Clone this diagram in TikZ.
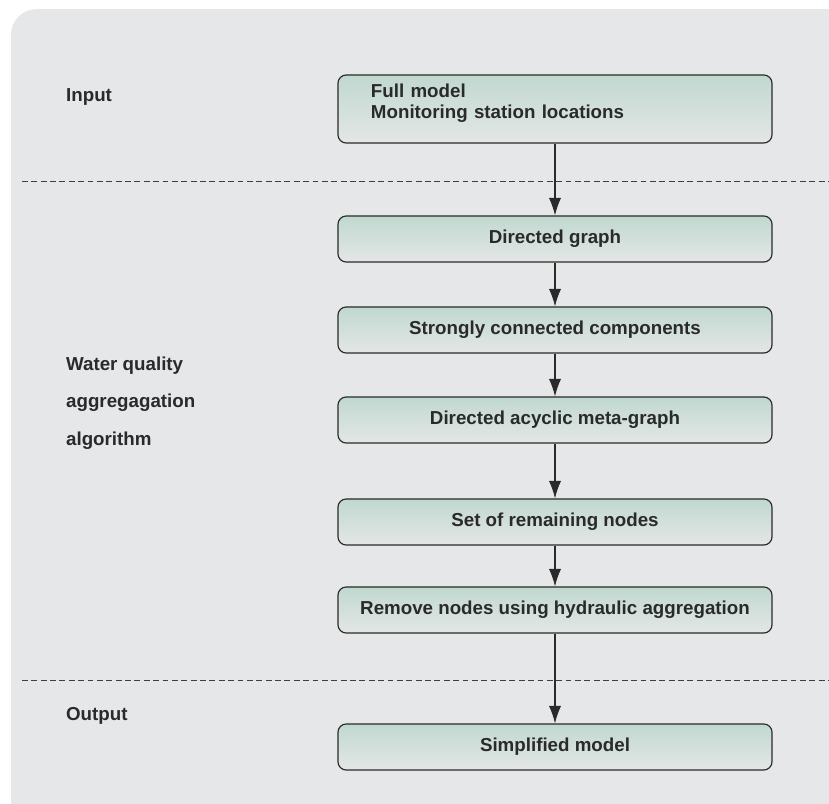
\documentclass[tikz,border=0pt]{standalone}
\usepackage{fontspec}
\setmainfont{Liberation Sans}
\usetikzlibrary{arrows.meta}
\definecolor{panelgray}{HTML}{E6E7E9}
\definecolor{boxtop}{HTML}{C0D8CF}
\definecolor{boxbottom}{HTML}{E4E7E5}
\definecolor{linegray}{HTML}{2A2A2A}
\tikzset{
	stage/.style={draw=linegray,line width=1pt,rounded corners=7pt,top color=boxtop,bottom color=boxbottom,
		minimum width=13.02cm,minimum height=1.38cm,font=\fontsize{16}{19}\selectfont\bfseries,text=linegray},
	phase/.style={anchor=west,font=\fontsize{16}{19}\selectfont\bfseries,text=linegray},
	flow/.style={draw=linegray,line width=1pt,-{Latex[length=15pt,width=10.5pt]}},
	divider/.style={draw=linegray!90,line width=0.8pt,dash pattern=on 5pt off 3pt}
}

\begin{document}
\begin{tikzpicture}[x=0.03cm,y=-0.03cm]
	\useasboundingbox (0,0) rectangle (829,804);
	\fill[panelgray,rounded corners=22pt] (11,9) rectangle (860,830);

	% phases
	\node[phase] (input) at (62,97) {Input};
	\node[phase,align=left,font=\fontsize{16}{32}\selectfont\bfseries] (algo) at (62,403) {Water quality\\aggregagation\\algorithm};
	\node[phase] (output) at (62,716) {Output};

	\coordinate (d1l) at (22,181);
	\coordinate (d1r) at (829,181);
	\coordinate (d2l) at (22,680);
	\coordinate (d2r) at (829,680);
	\path[divider] (d1l) -- (d1r);
	\path[divider] (d2l) -- (d2r);

	% steps
	\node[stage,minimum height=2.04cm,align=left,text width=11.04cm,text depth=31pt,font=\fontsize{16}{18}\selectfont\bfseries] (full) at (555,109) {Full model\\Monitoring station locations};
	\node[stage] (graph) at (555,239) {Directed graph};
	\node[stage] (scc) at (555,330) {Strongly connected components};
	\node[stage] (dag) at (555,420) {Directed acyclic meta-graph};
	\node[stage] (remain) at (555,522) {Set of remaining nodes};
	\node[stage] (remove) at (555,610) {Remove nodes using hydraulic aggregation};
	\node[stage] (simple) at (555,747) {Simplified model};

	\path[flow] (full) -- (graph);
	\path[flow] (graph) -- (scc);
	\path[flow] (scc) -- (dag);
	\path[flow] (dag) -- (remain);
	\path[flow] (remain) -- (remove);
	\path[flow] (remove) -- (simple);
\end{tikzpicture}
\end{document}
